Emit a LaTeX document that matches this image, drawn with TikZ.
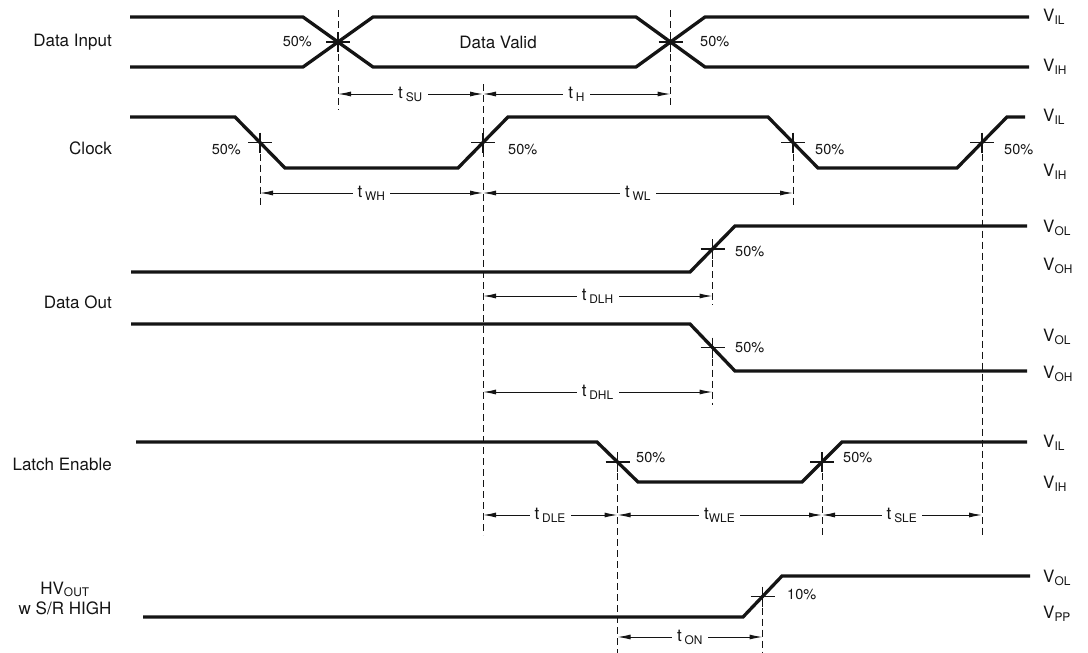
\documentclass[tikz,border=0pt]{standalone}
\usepackage{fontspec}
\setmainfont{TeX Gyre Heros}
\usepackage{tikz}
\usetikzlibrary{arrows.meta}
\definecolor{inkblack}{RGB}{20, 20, 20}

\newcommand{\tsub}[1]{t\,\textsubscript{#1}}

\begin{document}
\begin{tikzpicture}[x=1pt, y=-1pt, >={Latex[length=13pt,width=5pt]}, color=inkblack,
    sig/.style={line width=3.3pt, line join=miter},
    guide/.style={line width=1pt, dash pattern=on 7pt off 4pt},
    dim/.style={<->, line width=1pt},
    tickmark/.style={line width=1.1pt},
    tlab/.style={fill=white, inner xsep=5pt, inner ysep=1pt, font=\fontsize{17}{19}\selectfont},
    signame/.style={anchor=east, inner sep=0pt, font=\fontsize{17}{20}\selectfont},
    lvl/.style={anchor=west, inner sep=0pt, font=\fontsize{17}{20}\selectfont},
    pct/.style={inner sep=0pt, font=\fontsize{14.5}{16}\selectfont}]
    \useasboundingbox (0,0) rectangle (1088,653);

    % Data Input
    \node[signame] (din) at (112,42) {Data Input};
    \draw[sig] (130,17) -- (303,17) -- (373,67) -- (636,67) -- (705,17) -- (1029,17);
    \draw[sig] (130,67) -- (303,67) -- (373,17) -- (636,17) -- (705,67) -- (1029,67);
    \coordinate (x1) at (338,42);
    \coordinate (x2) at (670.5,42);
    \node[pct, anchor=east] (px1) at (312,42) {50\%};
    \node[pct, anchor=west] (px2) at (700,42) {50\%};
    \node[font=\fontsize{17}{20}\selectfont] (valid) at (498,42) {Data Valid};
    \node[lvl] (vil1) at (1043,17) {V\textsubscript{IL}};
    \node[lvl] (vih1) at (1043,67) {V\textsubscript{IH}};

    % Clock
    \node[signame] (clk) at (112,148) {Clock};
    \draw[sig] (130,117) -- (235,117) -- (285,168) -- (458,168) -- (508,117)
        -- (768,117) -- (818,168) -- (957,168) -- (1007,117) -- (1025,117);
    \coordinate (c1) at (260,142.5);
    \coordinate (c2) at (483,142.5);
    \coordinate (c3) at (793,142.5);
    \coordinate (c4) at (982,142.5);
    \node[pct, anchor=east] (pc1) at (241,150) {50\%};
    \node[pct, anchor=west] (pc2) at (508,150) {50\%};
    \node[pct, anchor=west] (pc3) at (815,150) {50\%};
    \node[pct, anchor=west] (pc4) at (1004,150) {50\%};
    \node[lvl] (vil2) at (1043,117) {V\textsubscript{IL}};
    \node[lvl] (vih2) at (1043,172) {V\textsubscript{IH}};

    % Data Out
    \node[signame] (dout) at (112,302) {Data Out};
    \draw[sig] (131,272) -- (690,272) -- (735,226) -- (1027,226);
    \draw[sig] (131,324) -- (690,324) -- (735,371) -- (1027,371);
    \coordinate (o1) at (712.5,249);
    \coordinate (o2) at (712.5,347.5);
    \node[pct, anchor=west] (po1) at (735,252) {50\%};
    \node[pct, anchor=west] (po2) at (735,348) {50\%};
    \node[lvl] (vol1) at (1043,228) {V\textsubscript{OL}};
    \node[lvl] (voh1) at (1043,266) {V\textsubscript{OH}};
    \node[lvl] (vol2) at (1043,337) {V\textsubscript{OL}};
    \node[lvl] (voh2) at (1043,374) {V\textsubscript{OH}};

    % Latch Enable
    \node[signame] (le) at (112,464) {Latch Enable};
    \draw[sig] (136,442) -- (597,442) -- (638,482) -- (802,482) -- (842,442) -- (1027,442);
    \coordinate (l1) at (617.5,462);
    \coordinate (l2) at (822,462);
    \node[pct, anchor=west] (pl1) at (636,458) {50\%};
    \node[pct, anchor=west] (pl2) at (843,458) {50\%};
    \node[lvl] (vil3) at (1043,443) {V\textsubscript{IL}};
    \node[lvl] (vih3) at (1043,484) {V\textsubscript{IH}};

    % HV out
    \node[align=center, inner sep=0pt, font=\fontsize{17}{20}\selectfont] (hv) at (65,598)
        {HV\textsubscript{OUT}\\w S/R HIGH};
    \draw[sig] (143,617) -- (743,617) -- (782,576) -- (1030,576);
    \coordinate (h1) at (762.5,596.5);
    \node[pct, anchor=west] (ph1) at (787,595) {10\%};
    \node[lvl] (vol3) at (1043,578) {V\textsubscript{OL}};
    \node[lvl] (vpp) at (1043,614) {V\textsubscript{PP}};

    % crossing marks
    \foreach \c in {x1,x2,c1,c2,c3,c4,o1,o2,l1,l2,h1}
        \draw[tickmark] ([xshift=-12pt]\c) -- ([xshift=12pt]\c)
            ([yshift=10pt]\c) -- ([yshift=-10pt]\c);

    % Guide lines
    \draw[guide] (338,10) coordinate (g1t) -- (338,110) coordinate (g1b);
    \draw[guide] (670.5,10) coordinate (g2t) -- (670.5,108) coordinate (g2b);
    \draw[guide] (c1) -- (260,207) coordinate (g3b);
    \draw[guide] (483,84) coordinate (g4t) -- (483,535) coordinate (g4b);
    \draw[guide] (c3) -- (793,207) coordinate (g5b);
    \draw[guide] (c4) -- (982,535) coordinate (g6b);
    \draw[guide] (o1) -- (712.5,305) coordinate (g7b);
    \draw[guide] (o2) -- (712.5,405) coordinate (g8b);
    \draw[guide] (l1) -- (617.5,653) coordinate (g9b);
    \draw[guide] (l2) -- (822,535) coordinate (g10b);
    \draw[guide] (h1) -- (762.5,653) coordinate (g11b);

    % Timing
    \coordinate (su0) at (338,94);   \coordinate (su1) at (483,94);   \coordinate (hd1) at (670.5,94);
    \coordinate (wh0) at (260,193);  \coordinate (wh1) at (483,193);  \coordinate (wl1) at (793,193);
    \coordinate (lh0) at (483,296);  \coordinate (lh1) at (712.5,296);
    \coordinate (hl0) at (483,392);  \coordinate (hl1) at (712.5,392);
    \coordinate (le0) at (483,515);  \coordinate (le1) at (617.5,515);
    \coordinate (le2) at (822,515);  \coordinate (le3) at (982,515);
    \coordinate (on0) at (617.5,637); \coordinate (on1) at (762.5,637);
    \draw[dim] (su0) -- node[tlab] (tsu) {\tsub{SU}} (su1);
    \draw[dim] (su1) -- node[tlab] (th) {\tsub{H}} (hd1);
    \draw[dim] (wh0) -- node[tlab] (twh) {\tsub{WH}} (wh1);
    \draw[dim] (wh1) -- node[tlab] (twl) {\tsub{WL}} (wl1);
    \draw[dim] (lh0) -- node[tlab] (tdlh) {\tsub{DLH}} (lh1);
    \draw[dim] (hl0) -- node[tlab] (tdhl) {\tsub{DHL}} (hl1);
    \draw[dim] (le0) -- node[tlab] (tdle) {\tsub{DLE}} (le1);
    \draw[dim] (le1) -- node[tlab] (twle) {t\textsubscript{WLE}} (le2);
    \draw[dim] (le2) -- node[tlab] (tsle) {\tsub{SLE}} (le3);
    \draw[dim] (on0) -- node[tlab] (ton) {\tsub{ON}} (on1);
\end{tikzpicture}
\end{document}
